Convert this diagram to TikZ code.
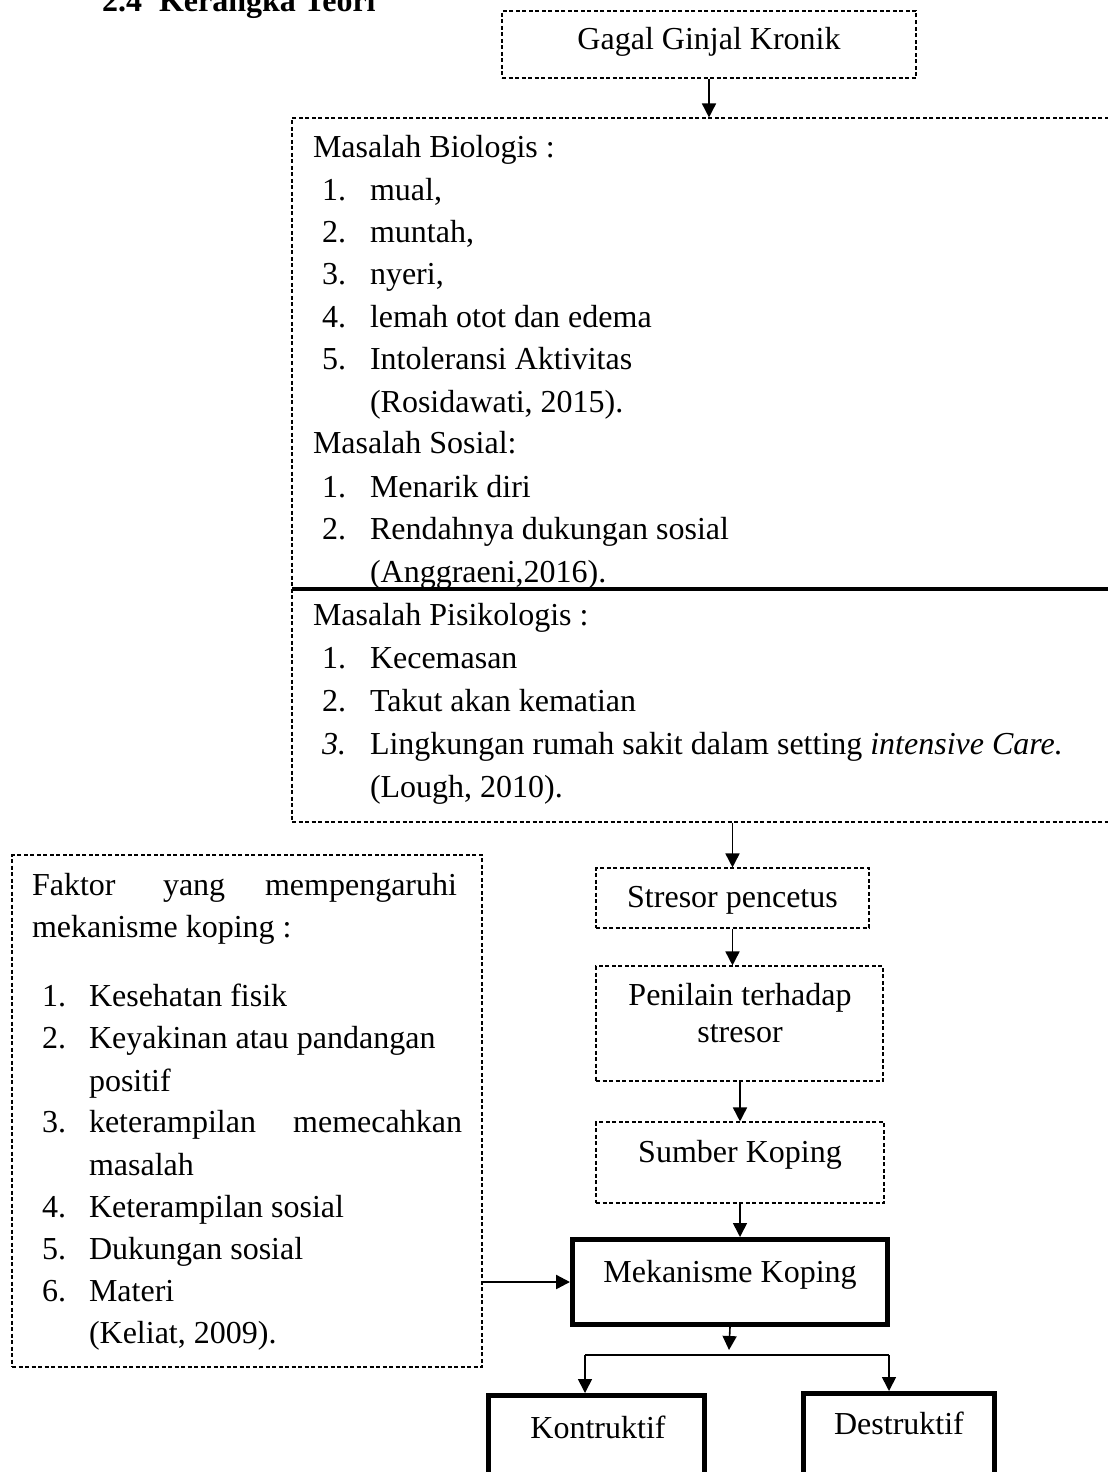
\documentclass[tikz,border=0pt]{standalone}
\usepackage{fontspec}
\setmainfont{Liberation Serif}
\usetikzlibrary{arrows.meta}
\begin{document}
\begin{tikzpicture}[x=1pt,y=-1pt,
  font=\fontsize{32}{42}\selectfont,
  dbox/.style={draw, line width=1.1pt, dash pattern=on 4pt off 2.5pt, inner sep=0pt},
  tbox/.style={draw, line width=5pt, inner sep=0pt},
  lt/.style={anchor=base west, inner sep=0pt, outer sep=0pt},
  rt/.style={anchor=base east, inner sep=0pt, outer sep=0pt},
  ct/.style={anchor=base, inner sep=0pt, outer sep=0pt},
  arr/.style={-{Triangle[length=14pt,width=14pt]}, line width=1.6pt},
  conn/.style={line width=1.6pt}]
\useasboundingbox (0,0) rectangle (1108,1472);
\fill[white] (0,0) rectangle (1108,1472);
\clip (0,0) rectangle (1108,1472);

% title
\node[lt, font=\fontsize{32}{42}\selectfont\bfseries] (tnum) at (102,12) {2.4};
\node[lt, font=\fontsize{32}{42}\selectfont\bfseries] (ttitle) at (159,12) {Kerangka Teori};

% boxes
\node[dbox, minimum width=414pt, minimum height=67pt] (gagal) at (709,44.5) {};
\node[dbox, minimum width=833pt, minimum height=704pt] (big) at (708.5,470) {};
\node[dbox, minimum width=273pt, minimum height=60pt] (stres) at (732.5,898) {};
\node[dbox, minimum width=287pt, minimum height=115pt] (pen) at (739.5,1023.5) {};
\node[dbox, minimum width=288pt, minimum height=81pt] (sumber) at (740,1162.5) {};
\node[tbox, minimum width=315pt, minimum height=85pt] (mek) at (730,1282) {};
\node[tbox, minimum width=216pt, minimum height=110pt] (kon) at (596.5,1450.5) {};
\node[tbox, minimum width=191pt, minimum height=112pt] (des) at (899,1449.5) {};
\node[dbox, minimum width=470pt, minimum height=512pt] (fak) at (247,1111) {};

% divider inside big box
\draw[line width=4pt] (292,589) -- (1125,589);

% box texts
\node[ct] (gagalT) at (709,50) {Gagal Ginjal Kronik};
\node[ct] (stresT) at (732.5,907) {Stresor pencetus};
\node[ct] (penT1) at (740,1005) {Penilain terhadap};
\node[ct] (penT2) at (740,1042) {stresor};
\node[ct] (sumberT) at (740,1162) {Sumber Koping};
\node[ct] (mekT) at (730,1282) {Mekanisme Koping};
\node[ct] (konT) at (598,1438) {Kontruktif};
\node[ct] (desT) at (899,1434) {Destruktif};

% big box text
\node[lt] (b0) at (313,157) {Masalah Biologis :};
\node[lt] (b1n) at (322,200) {1.};  \node[lt] (b1) at (370,200) {mual,};
\node[lt] (b2n) at (322,242) {2.};  \node[lt] (b2) at (370,242) {muntah,};
\node[lt] (b3n) at (322,284) {3.};  \node[lt] (b3) at (370,284) {nyeri,};
\node[lt] (b4n) at (322,327) {4.};  \node[lt] (b4) at (370,327) {lemah otot dan edema};
\node[lt] (b5n) at (322,369) {5.};  \node[lt] (b5) at (370,369) {Intoleransi Aktivitas};
\node[lt] (b6) at (370,412) {(Rosidawati, 2015).};
\node[lt] (s0) at (313,453) {Masalah Sosial:};
\node[lt] (s1n) at (322,497) {1.};  \node[lt] (s1) at (370,497) {Menarik diri};
\node[lt] (s2n) at (322,539) {2.};  \node[lt] (s2) at (370,539) {Rendahnya dukungan sosial};
\node[lt] (s3) at (370,582) {(Anggraeni,2016).};
\node[lt] (p0) at (313,625) {Masalah Pisikologis :};
\node[lt] (p1n) at (322,668) {1.};  \node[lt] (p1) at (370,668) {Kecemasan};
\node[lt] (p2n) at (322,711) {2.};  \node[lt] (p2) at (370,711) {Takut akan kematian};
\node[lt] (p3n) at (322,754) {\itshape 3.};  \node[lt] (p3) at (370,754) {Lingkungan rumah sakit dalam setting \textit{intensive Care.}};
\node[lt] (p4) at (370,797) {(Lough, 2010).};

% left box text
\node[lt] (f0a) at (32,895) {Faktor};
\node[lt] (f0b) at (163,895) {yang};
\node[rt] (f0c) at (457,895) {mempengaruhi};
\node[lt] (f0d) at (32,937) {mekanisme koping :};
\node[lt] (f1n) at (42,1006) {1.};  \node[lt] (f1) at (89,1006) {Kesehatan fisik};
\node[lt] (f2n) at (42,1048) {2.};  \node[lt] (f2) at (89,1048) {Keyakinan atau pandangan};
\node[lt] (f2b) at (89,1091) {positif};
\node[lt] (f3n) at (42,1132) {3.};  \node[lt] (f3) at (89,1132) {keterampilan};
\node[rt] (f3c) at (462,1132) {memecahkan};
\node[lt] (f3b) at (89,1175) {masalah};
\node[lt] (f4n) at (42,1217) {4.};  \node[lt] (f4) at (89,1217) {Keterampilan sosial};
\node[lt] (f5n) at (42,1259) {5.};  \node[lt] (f5) at (89,1259) {Dukungan sosial};
\node[lt] (f6n) at (42,1301) {6.};  \node[lt] (f6) at (89,1301) {Materi};
\node[lt] (f7) at (89,1343) {(Keliat, 2009).};

% connectors
\draw[arr] (gagal.south) -- (gagal.south |- big.north);
\draw[arr] (stres.north |- big.south) -- (stres.north);
\draw[arr] (stres.south) -- (stres.south |- pen.north);
\draw[arr] (sumber.north |- pen.south) -- (sumber.north);
\draw[arr] (sumber.south) -- (sumber.south |- mek.north);
\draw[arr, line width=2.4pt] (fak.east |- mek.west) -- (mek.west);
\coordinate (mtip) at (729,1350);
\coordinate (bl) at (585,1355);
\coordinate (br) at (889,1355);
\draw[arr] (mek.south) -- (mtip);
\draw[conn] (bl) -- (br);
\draw[arr] (bl) -- (bl |- kon.north);
\draw[arr] (br) -- (br |- des.north);
\end{tikzpicture}
\end{document}
